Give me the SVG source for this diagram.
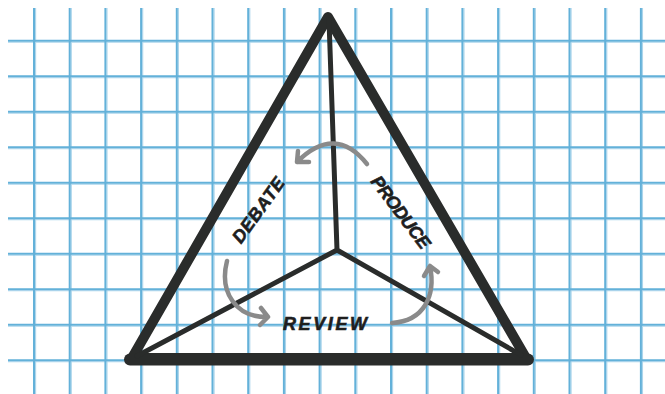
<svg xmlns="http://www.w3.org/2000/svg" width="665" height="394" viewBox="0 0 665 394">
<defs>
<style>
.g{stroke:#63b1d9;stroke-width:2;fill:none}
.gl{stroke:#acd5eb;stroke-width:1.1;fill:none}
.tri{stroke:#2a2c2b;fill:none;stroke-linejoin:round;stroke-linecap:round}
.arr{stroke:#8a8a8a;stroke-width:4.5;fill:none;stroke-linecap:round;stroke-linejoin:round}
.lbl{font-family:"Liberation Sans",Arial,sans-serif;font-weight:bold;font-style:italic;font-size:18px;fill:#1e1e1e;stroke:#1e1e1e;stroke-width:0.6;text-anchor:middle}
</style>
</defs>
<rect width="665" height="394" fill="#ffffff"/>
<g id="grid">
<path class="gl" d="M35.6,8V394M71.3,8V394M107,8V394M142.7,8V394M178.4,8V394M214.1,8V394M249.8,8V394M285.5,8V394M321.2,8V394M356.9,8V394M392.6,8V394M428.3,8V394M464,8V394M499.7,8V394M535.4,8V394M571.1,8V394M606.8,8V394M642.5,8V394"/>
<path class="gl" d="M8,42.2H665M8,77.7H665M8,113.2H665M8,148.7H665M8,184.2H665M8,219.7H665M8,255.2H665M8,290.7H665M8,326.2H665M8,361.7H665"/>
<path class="g" d="M34,8V394M69.7,8V394M105.4,8V394M141.1,8V394M176.8,8V394M212.5,8V394M248.2,8V394M283.9,8V394M319.6,8V394M355.3,8V394M391,8V394M426.7,8V394M462.4,8V394M498.1,8V394M533.8,8V394M569.5,8V394M605.2,8V394M640.9,8V394"/>
<path class="g" d="M8,40.7H665M8,76.2H665M8,111.7H665M8,147.2H665M8,182.7H665M8,218.2H665M8,253.7H665M8,289.2H665M8,324.7H665M8,360.2H665"/>
</g>
<g id="triangle">
<path class="tri" stroke-width="10" d="M328,17L132,358L526,358Z"/>
<path class="tri" stroke-width="12" d="M130,359.5L528,359.5"/>
</g>
<g id="connectors">
<path class="tri" stroke-width="5" d="M329,20L337,250M337,250L137,356M337,250L521,355"/>
</g>
<g id="arrows">
<path class="arr" d="M367,164Q335,124 297,162M297,162L298,151M297,162L309,162"/>
<path class="arr" d="M227,261C219,292 236,318 268,317M268,317L261,308M268,317L260,325"/>
<path class="arr" d="M392,323C424,321 436,296 430,266M430,266L424,276M430,266L438,272"/>
</g>
<g id="debate">
<text class="lbl" transform="translate(258,210) rotate(-54)" x="0" y="6.5" textLength="76" lengthAdjust="spacing">DEBATE</text>
</g>
<g id="produce">
<text class="lbl" transform="translate(401,212) rotate(53)" x="0" y="6.5" textLength="86" lengthAdjust="spacing">PRODUCE</text>
</g>
<g id="review">
<text class="lbl" x="325" y="330" textLength="84" lengthAdjust="spacing">REVIEW</text>
</g>
</svg>
